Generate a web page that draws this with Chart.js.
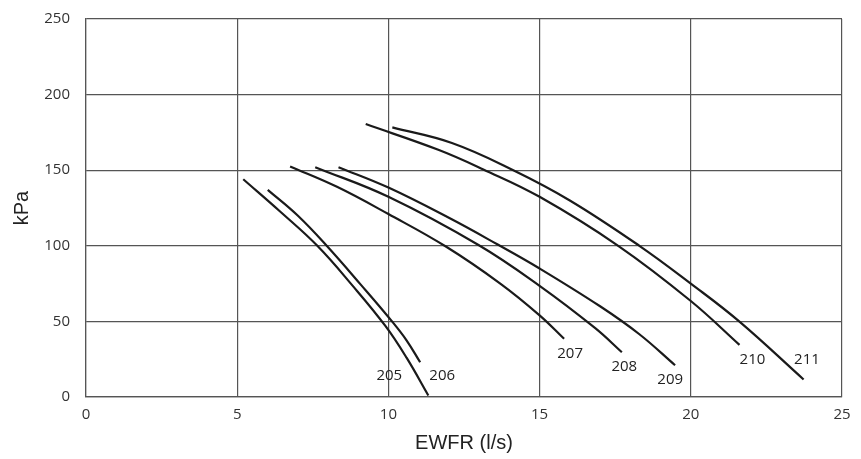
<!DOCTYPE html>
<html>
<head>
<meta charset="utf-8">
<script src="https://cdn.jsdelivr.net/npm/chart.js@4/dist/chart.umd.min.js"></script>
<style>
  html, body { margin: 0; padding: 0; background: #fff; }
  #wrap { width: 861px; height: 459px; }
</style>
</head>
<body>
<div id="wrap"><canvas id="pump"></canvas></div>
<script>
// pump curves: EWFR (l/s) vs kPa, one pair of arrays per model
const models = ['205', '206', '207', '208', '209', '210', '211'];

const flow205 = [5.2, 6.4, 7.65, 8.8, 9.9, 10.6, 11.32];
const kpa205  = [144, 123, 100, 74, 47, 26, 1];

const flow206 = [6.01, 7.0, 7.96, 9.1, 10.12, 10.6, 11.05];
const kpa206  = [137, 120, 100, 74, 50, 37.5, 23];

const flow207 = [6.75, 8.3, 10, 11.9, 13.7, 15, 15.81];
const kpa207  = [152.5, 139, 121, 99.5, 75, 54, 38.5];

const flow208 = [7.58, 10, 12.98, 15, 16.84, 17.72];
const kpa208  = [152, 132.4, 100.5, 73.5, 45.5, 29.6];

const flow209 = [8.35, 10, 12, 13.6, 15, 17, 18.3, 19.48];
const kpa209  = [152, 138.5, 118.5, 101, 85, 60, 41.5, 21];

const flow210 = [9.25, 11.65, 13.14, 15, 17.6, 20, 21.61];
const kpa210  = [180.5, 163.5, 150.5, 132.4, 100, 63.5, 34.5];

const flow211 = [10.13, 12.1, 14.13, 16, 18.3, 20, 21.6, 23.73];
const kpa211  = [178.3, 168, 150, 130, 100, 75, 50, 11.6];

const xTicks = [0, 5, 10, 15, 20, 25];
const yTicks = [0, 50, 100, 150, 200, 250];

// where each model number sits (data units)
const labelX = [10.03, 11.78, 16.01, 17.8, 19.32, 22.04, 23.84];
const labelY = [13.9, 13.9, 28.3, 19.7, 11.7, 24.9, 24.9];

const flows = [flow205, flow206, flow207, flow208, flow209, flow210, flow211];
const kpas  = [kpa205, kpa206, kpa207, kpa208, kpa209, kpa210, kpa211];

const datasets = models.map((m, i) => ({
  label: m,
  data: flows[i].map((x, j) => ({ x: x, y: kpas[i][j] })),
  borderColor: '#1a1a1a',
  borderWidth: 2.2,
  pointRadius: 0,
  fill: false,
  tension: 0.4
}));

const curveLabels = {
  id: 'curveLabels',
  afterDatasetsDraw(chart) {
    const ctx = chart.ctx, xs = chart.scales.x, ys = chart.scales.y;
    ctx.save();
    ctx.font = '15px "Open Sans", sans-serif';
    ctx.fillStyle = '#222';
    ctx.textAlign = 'center';
    ctx.textBaseline = 'middle';
    models.forEach((m, i) => {
      ctx.fillText(m, xs.getPixelForValue(labelX[i]), ys.getPixelForValue(labelY[i]));
    });
    ctx.restore();
  }
};

const tickFont = { family: '"Open Sans", sans-serif', size: 15 };

new Chart(document.getElementById('pump').getContext('2d'), {
  type: 'line',
  data: { datasets: datasets },
  options: {
    responsive: true,
    maintainAspectRatio: false,
    animation: false,
    layout: { padding: { top: 19, right: 19, left: 0, bottom: 0 } },
    plugins: { legend: { display: false }, tooltip: { enabled: false } },
    scales: {
      x: {
        type: 'linear', min: 0, max: 25,
        afterBuildTicks: s => { s.ticks = xTicks.map(v => ({ value: v })); },
        afterFit: s => { s.height = 62; },
        grid: { color: '#555', lineWidth: 1.2, drawTicks: false },
        border: { color: '#555', width: 1.2 },
        ticks: { font: tickFont, color: '#333', padding: 9, maxRotation: 0 },
        title: { display: true, text: 'EWFR (l/s)', color: '#222',
                 font: { family: '"Liberation Sans", Arial, sans-serif', size: 20 },
                 padding: { top: 0, bottom: 4 } }
      },
      y: {
        type: 'linear', min: 0, max: 250,
        afterBuildTicks: s => { s.ticks = yTicks.map(v => ({ value: v })); },
        afterFit: s => { s.width = 86; },
        grid: { color: '#555', lineWidth: 1.2, drawTicks: true, tickLength: 16,
                tickColor: 'rgba(0,0,0,0)' },
        border: { color: '#555', width: 1.2 },
        ticks: { font: tickFont, color: '#333', padding: 0 },
        title: { display: true, text: 'kPa', color: '#222',
                 font: { family: '"Liberation Sans", Arial, sans-serif', size: 20 },
                 padding: { top: 10, bottom: 0 } }
      }
    }
  },
  plugins: [curveLabels]
});
</script>
</body>
</html>
